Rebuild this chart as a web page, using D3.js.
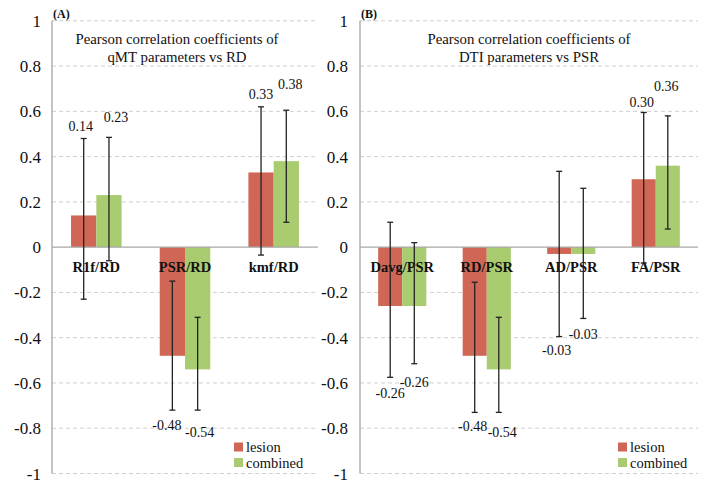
<!DOCTYPE html>
<html>
<head>
<meta charset="utf-8">
<script src="https://cdn.jsdelivr.net/npm/d3@7/dist/d3.min.js"></script>
<style>
  html, body { margin: 0; padding: 0; background: #ffffff; }
  svg { display: block; }
  text { font-family: "Liberation Serif", "Times New Roman", serif; fill: #111; }
</style>
</head>
<body>
<svg id="chart" width="712" height="496"></svg>
<script>
// ---------------- DATA ----------------
const seriesNames = ["lesion", "combined"];
const yTickValues = [1, 0.8, 0.6, 0.4, 0.2, 0, -0.2, -0.4, -0.6, -0.8, -1];
const yTickLabels = ["1", "0.8", "0.6", "0.4", "0.2", "0", "-0.2", "-0.4", "-0.6", "-0.8", "-1"];

// Panel A: qMT parameters vs RD
const panelLabelA = "(A)";
const titleA = ["Pearson correlation coefficients of", "qMT parameters vs RD"];
const categoriesA = ["R1f/RD", "PSR/RD", "kmf/RD"];
const lesionA = [0.14, -0.48, 0.33];
const combinedA = [0.23, -0.54, 0.38];
const lesionErrLowA = [-0.23, -0.72, -0.035];
const lesionErrHighA = [0.48, -0.15, 0.62];
const combinedErrLowA = [-0.06, -0.72, 0.11];
const combinedErrHighA = [0.485, -0.31, 0.605];

// Panel B: DTI parameters vs PSR
const panelLabelB = "(B)";
const titleB = ["Pearson correlation coefficients of", "DTI parameters vs PSR"];
const categoriesB = ["Davg/PSR", "RD/PSR", "AD/PSR", "FA/PSR"];
const lesionB = [-0.26, -0.48, -0.03, 0.30];
const combinedB = [-0.26, -0.54, -0.03, 0.36];
const lesionErrLowB = [-0.575, -0.73, -0.395, -0.07];
const lesionErrHighB = [0.11, -0.155, 0.335, 0.595];
const combinedErrLowB = [-0.515, -0.73, -0.315, 0.08];
const combinedErrHighB = [0.02, -0.31, 0.26, 0.58];

// ---------------- STYLE / LAYOUT ----------------
const colors = { lesion: "#CF6656", combined: "#A9CC70" };
const plotTop = 20.8, plotBottom = 473.5;

const panels = [
  {
    x0: 52, x1: 318, tickX: 41, panelLabel: panelLabelA, title: titleA, titleX: 177,
    categories: categoriesA,
    values: [lesionA, combinedA],
    errLow: [lesionErrLowA, combinedErrLowA],
    errHigh: [lesionErrHighA, combinedErrHighA],
    // label nudges [dx, dy] relative to the error bar end (layout only)
    nudge: [
      [[-3, -12.5], [-5.5, 15], [0, -12]],
      [[7, -20], [2, 22.5], [4, -26]]
    ],
    legendX: 234
  },
  {
    x0: 360, x1: 698, tickX: 348, panelLabel: panelLabelB, title: titleB, titleX: 529,
    categories: categoriesB,
    values: [lesionB, combinedB],
    errLow: [lesionErrLowB, combinedErrLowB],
    errHigh: [lesionErrHighB, combinedErrHighB],
    nudge: [
      [[0, 16], [-2, 14], [-2.5, 13.5], [-2, -9.5]],
      [[0, 19], [3.5, 20], [0, 16.5], [-1.5, -29]]
    ],
    legendX: 618
  }
];

const svg = d3.select("#chart");
const y = d3.scaleLinear().domain([-1, 1]).range([plotBottom, plotTop]);

panels.forEach(p => {
  const g = svg.append("g");
  const x = d3.scaleBand().domain(p.categories).range([p.x0, p.x1]).padding(0);
  const barW = x.step() * 0.285;
  const xs = d3.scaleBand().domain(seriesNames).range([0, 2 * barW]).padding(0);
  const groupOffset = x.bandwidth() / 2 - barW;

  // gridlines (dashed) except zero
  g.append("g").selectAll("line")
    .data(yTickValues.filter(v => v !== 0))
    .join("line")
    .attr("x1", p.x0).attr("x2", p.x1)
    .attr("y1", d => y(d)).attr("y2", d => y(d))
    .attr("stroke", "#cfcfcf").attr("stroke-width", 1)
    .attr("stroke-dasharray", "4,3");

  // y axis via d3.axisLeft
  const axis = d3.axisLeft(y)
    .tickValues(yTickValues)
    .tickFormat((d, i) => yTickLabels[i])
    .tickSize(0).tickPadding(0);
  const ag = g.append("g").attr("transform", `translate(${p.tickX},0)`).call(axis);
  ag.select(".domain").remove();
  ag.selectAll("text")
    .attr("x", 0).attr("dy", null)
    .attr("dominant-baseline", "central")
    .style("font-family", "Liberation Serif, serif")
    .style("font-size", "17px").attr("fill", "#111");

  // axis line
  g.append("line").attr("x1", p.x0).attr("x2", p.x0)
    .attr("y1", y(1)).attr("y2", y(-1))
    .attr("stroke", "#9c9c9c").attr("stroke-width", 1.2);

  // bars
  seriesNames.forEach((s, si) => {
    g.append("g").selectAll("rect")
      .data(p.categories.map((c, i) => ({ c, v: p.values[si][i] })))
      .join("rect")
      .attr("x", d => x(d.c) + groupOffset + xs(s))
      .attr("width", xs.bandwidth())
      .attr("y", d => y(Math.max(0, d.v)))
      .attr("height", d => Math.abs(y(d.v) - y(0)))
      .attr("fill", colors[s]);
  });

  // zero line
  g.append("line").attr("x1", p.x0).attr("x2", p.x1)
    .attr("y1", y(0)).attr("y2", y(0))
    .attr("stroke", "#a8a8a8").attr("stroke-width", 1.3);

  // category labels (drawn over bars)
  g.append("g").selectAll("text")
    .data(p.categories)
    .join("text")
    .attr("x", d => x(d) + x.bandwidth() / 2)
    .attr("y", y(0) + 20)
    .attr("text-anchor", "middle")
    .attr("dominant-baseline", "central")
    .style("font-size", "14.5px").style("font-weight", "bold")
    .text(d => d);

  // error bars
  const cap = 3;
  seriesNames.forEach((s, si) => {
    const eg = g.append("g").attr("stroke", "#222").attr("stroke-width", 1.3);
    p.categories.forEach((c, i) => {
      const cx = x(c) + groupOffset + xs(s) + xs.bandwidth() / 2;
      const lo = y(p.errLow[si][i]), hi = y(p.errHigh[si][i]);
      eg.append("line").attr("x1", cx).attr("x2", cx).attr("y1", lo).attr("y2", hi);
      eg.append("line").attr("x1", cx - cap).attr("x2", cx + cap).attr("y1", lo).attr("y2", lo);
      eg.append("line").attr("x1", cx - cap).attr("x2", cx + cap).attr("y1", hi).attr("y2", hi);
    });
  });

  // value labels
  seriesNames.forEach((s, si) => {
    p.categories.forEach((c, i) => {
      const v = p.values[si][i];
      const cx = x(c) + groupOffset + xs(s) + xs.bandwidth() / 2;
      const endY = v >= 0 ? y(p.errHigh[si][i]) : y(p.errLow[si][i]);
      const [dx, dy] = p.nudge[si][i];
      g.append("text")
        .attr("x", cx + dx).attr("y", endY + dy)
        .attr("text-anchor", "middle")
        .attr("dominant-baseline", "central")
        .style("font-size", "14px")
        .text(v.toFixed(2));
    });
  });

  // title
  p.title.forEach((t, i) => {
    g.append("text")
      .attr("x", p.titleX).attr("y", 39 + i * 18)
      .attr("text-anchor", "middle")
      .attr("dominant-baseline", "central")
      .style("font-size", "14.8px")
      .text(t);
  });

  // panel label
  g.append("text")
    .attr("x", p.x0 + 1).attr("y", 14)
    .attr("dominant-baseline", "central")
    .style("font-size", "12px").style("font-weight", "bold")
    .text(p.panelLabel);

  // legend
  seriesNames.forEach((s, si) => {
    const ly = 447 + si * 15.5;
    g.append("rect").attr("x", p.legendX).attr("y", ly - 4.5)
      .attr("width", 9).attr("height", 9).attr("fill", colors[s]);
    g.append("text").attr("x", p.legendX + 12).attr("y", ly)
      .attr("dominant-baseline", "central")
      .style("font-size", "14.5px")
      .text(s);
  });
});
</script>
</body>
</html>
